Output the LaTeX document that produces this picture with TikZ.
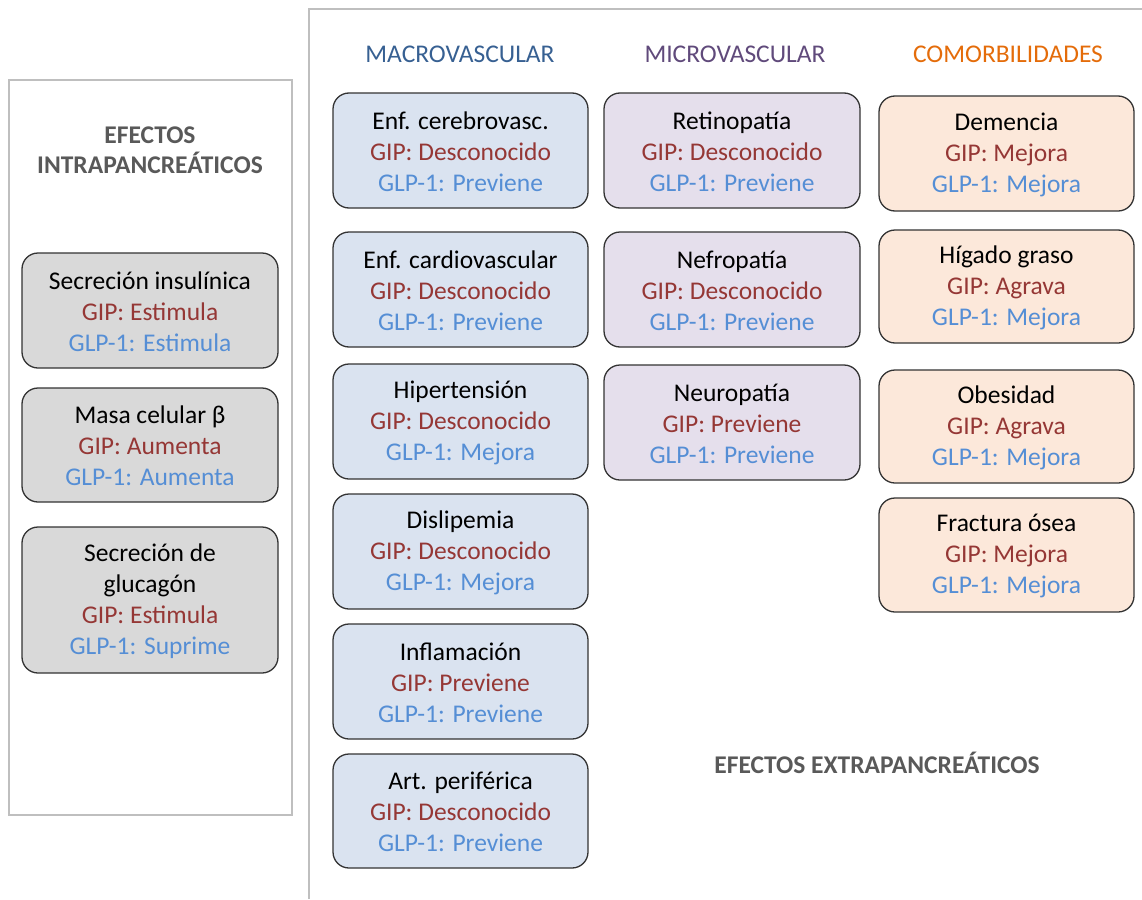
\documentclass[tikz,border=0pt]{standalone}
\usepackage{fontspec}
\setmainfont{Carlito}
\definecolor{fblue}{HTML}{DAE3F0}
\definecolor{fpurp}{HTML}{E5DFEC}
\definecolor{forange}{HTML}{FCE8DA}
\definecolor{fgray}{HTML}{D9D9D9}
\definecolor{tred}{HTML}{953735}
\definecolor{tblue}{HTML}{558ED5}
\definecolor{hmacro}{HTML}{376092}
\definecolor{hmicro}{HTML}{604A7B}
\definecolor{hcomor}{HTML}{E46C0A}
\definecolor{hgray}{HTML}{595959}
\definecolor{frame}{HTML}{BFBFBF}
\begin{document}
\begin{tikzpicture}[x=1pt,y=-1pt,
  card/.style={draw=black!80, line width=1.3pt, rounded corners=16pt},
  cardtext/.style={align=center, font=\fontsize{25.5}{31}\selectfont, inner sep=0pt},
  hdr/.style={font=\fontsize{25.5}{30}\selectfont, align=center},
  bhdr/.style={font=\fontsize{25.5}{30}\selectfont\bfseries, text=hgray, align=center},
  framebox/.style={draw=frame, line width=1.5pt}]
\useasboundingbox (0,0) rectangle (1142,899);
\newcommand{\cardtxt}[3]{#1\\\textcolor{tred}{GIP: #2}\\\textcolor{tblue}{GLP-1: #3}}
\newcommand{\mkcard}[7]{\path[#2] (#3,#4) rectangle (#5,#6);
  \node[cardtext] (#1) at ({(#3+#5)/2},{(#4+#6)/2+1}) {#7};}
% frames
\draw[framebox] (9,80) rectangle (292,815);
\draw[framebox] (309,899) -- (309,9) -- (1142,9);
% headers
\node[bhdr] (intra) at (150,150) {EFECTOS\\INTRAPANCREÁTICOS};
\node[bhdr] (extra) at (877,763) {EFECTOS EXTRAPANCREÁTICOS};
\node[hdr, text=hmacro] (hmac) at (460,54) {MACROVASCULAR};
\node[hdr, text=hmicro] (hmic) at (735,54) {MICROVASCULAR};
\node[hdr, text=hcomor] (hcom) at (1008,54) {COMORBILIDADES};
% left column
\mkcard{ins}{card, fill=fgray}{22}{253}{278}{368}{\cardtxt{Secreción insulínica}{Estimula}{Estimula}}
\mkcard{masa}{card, fill=fgray}{22}{388}{278}{502}{\cardtxt{Masa celular β}{Aumenta}{Aumenta}}
\mkcard{gluc}{card, fill=fgray}{22}{527}{278}{673}{Secreción de\\glucagón\\\textcolor{tred}{GIP: Estimula}\\\textcolor{tblue}{GLP-1: Suprime}}
% macro
\mkcard{cer}{card, fill=fblue}{333}{93}{588}{208}{\cardtxt{Enf. cerebrovasc.}{Desconocido}{Previene}}
\mkcard{car}{card, fill=fblue}{333}{232}{588}{347}{\cardtxt{Enf. cardiovascular}{Desconocido}{Previene}}
\mkcard{hip}{card, fill=fblue}{333}{364}{588}{479}{\cardtxt{Hipertensión}{Desconocido}{Mejora}}
\mkcard{dis}{card, fill=fblue}{333}{494}{588}{609}{\cardtxt{Dislipemia}{Desconocido}{Mejora}}
\mkcard{inf}{card, fill=fblue}{333}{624}{588}{739}{\cardtxt{Inflamación}{Previene}{Previene}}
\mkcard{art}{card, fill=fblue}{333}{754}{588}{868}{\cardtxt{Art. periférica}{Desconocido}{Previene}}
% micro
\mkcard{ret}{card, fill=fpurp}{604}{93}{860}{208}{\cardtxt{Retinopatía}{Desconocido}{Previene}}
\mkcard{nef}{card, fill=fpurp}{604}{232}{860}{347}{\cardtxt{Nefropatía}{Desconocido}{Previene}}
\mkcard{neu}{card, fill=fpurp}{604}{365}{860}{480}{\cardtxt{Neuropatía}{Previene}{Previene}}
% comorbidities
\mkcard{dem}{card, fill=forange}{879}{96}{1134}{211}{\cardtxt{Demencia}{Mejora}{Mejora}}
\mkcard{hig}{card, fill=forange}{879}{230}{1134}{343}{\cardtxt{Hígado graso}{Agrava}{Mejora}}
\mkcard{obe}{card, fill=forange}{879}{370}{1134}{483}{\cardtxt{Obesidad}{Agrava}{Mejora}}
\mkcard{fra}{card, fill=forange}{879}{498}{1134}{612}{\cardtxt{Fractura ósea}{Mejora}{Mejora}}
\end{tikzpicture}
\end{document}
